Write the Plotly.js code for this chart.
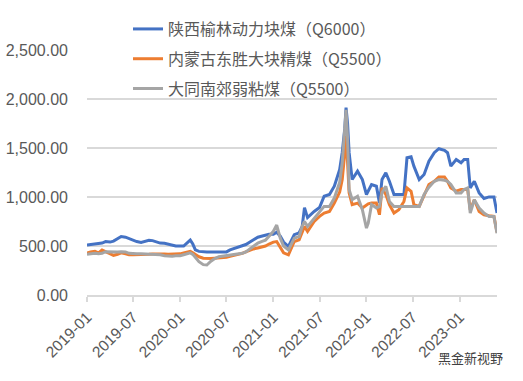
<!DOCTYPE html>
<html>
<head>
<meta charset="utf-8">
<script src="https://cdn.plot.ly/plotly-3.0.1.min.js"></script>
<style>html,body{margin:0;padding:0;background:#fff;}#chart{width:523px;height:381px;}</style>
</head>
<body>
<div id="chart"></div>
<script>
const dates = [
 '2019-01-01','2019-01-15','2019-02-01','2019-02-15','2019-03-01','2019-03-15','2019-04-01','2019-04-15',
 '2019-05-01','2019-05-15','2019-06-01','2019-06-15','2019-07-01','2019-07-15','2019-08-01','2019-08-15',
 '2019-09-01','2019-09-15','2019-10-01','2019-10-15','2019-11-01','2019-11-15','2019-12-01','2019-12-15',
 '2020-01-01','2020-01-15','2020-02-01','2020-02-10','2020-02-20','2020-03-01','2020-03-15','2020-04-01',
 '2020-04-15','2020-05-01','2020-05-15','2020-06-01','2020-06-15','2020-07-01','2020-07-15','2020-08-01',
 '2020-08-15','2020-09-01','2020-09-15','2020-10-01','2020-10-15','2020-11-01','2020-11-15','2020-12-01',
 '2020-12-15','2021-01-01','2021-01-14','2021-01-28','2021-02-10','2021-03-01','2021-03-24','2021-04-12',
 '2021-04-24','2021-05-03','2021-05-15','2021-06-10','2021-07-01','2021-07-19','2021-08-09','2021-08-28',
 '2021-09-18','2021-09-28','2021-10-08','2021-10-13','2021-10-19','2021-10-25','2021-11-06','2021-11-27',
 '2021-12-16','2022-01-01','2022-01-08','2022-01-21','2022-02-09','2022-02-21','2022-03-03','2022-03-18',
 '2022-04-01','2022-04-19','2022-05-08','2022-05-28','2022-06-09','2022-06-25','2022-07-06','2022-07-27',
 '2022-08-15','2022-09-03','2022-09-24','2022-10-12','2022-11-03','2022-11-15','2022-11-28','2022-12-19',
 '2023-01-07','2023-01-19','2023-02-02','2023-02-12','2023-02-28','2023-03-19','2023-04-07','2023-04-27',
 '2023-05-16','2023-05-28'
];
const yulin = [
 510,515,527,527,530,545,540,550,
 580,597,590,575,560,545,537,545,
 558,555,540,530,527,520,510,500,
 500,500,540,560,520,460,445,440,
 440,440,440,440,440,440,460,475,
 490,505,515,540,560,590,600,610,
 620,620,640,600,540,495,615,635,
 700,892,790,853,892,1008,1025,1110,
 1280,1455,1700,1913,1750,1455,1178,1263,
 1178,1025,1060,1127,1110,940,1178,1247,
 1161,1025,1025,1025,1400,1410,1315,1178,
 1229,1366,1452,1493,1476,1452,1315,1383,
 1349,1383,1383,1093,1161,1042,985,1001,
 1001,837
];
const dongsheng = [
 428,440,445,430,459,440,420,405,
 415,430,420,410,410,410,412,412,
 415,418,420,420,418,415,415,415,
 420,430,445,445,430,410,390,375,
 372,372,375,378,380,385,395,405,
 415,425,440,460,470,480,490,500,
 520,540,545,480,430,410,546,563,
 650,700,648,750,802,836,853,938,
 1050,1178,1450,1625,1350,1042,922,938,
 887,920,930,938,938,819,1093,1025,
 922,836,870,955,1093,1059,922,904,
 1008,1127,1161,1205,1205,1161,1093,1059,
 1076,1076,1076,870,972,853,819,809,
 802,640
];
const datong = [
 415,420,425,420,425,442,440,435,
 440,442,440,425,420,420,420,418,
 420,420,418,410,400,395,395,400,
 400,410,425,430,415,380,340,310,
 306,345,370,390,395,400,405,410,
 415,425,440,470,500,530,545,560,
 600,650,714,580,500,461,580,597,
 700,750,700,785,853,904,904,989,
 1150,1349,1700,1890,1600,1076,972,1008,
 870,683,733,922,887,904,1042,1110,
 955,904,904,904,904,904,904,904,
 1025,1100,1160,1178,1170,1161,1127,1042,
 1042,1076,1093,836,972,887,836,802,
 802,630
];
const seriesNames = ['陕西榆林动力块煤（Q6000）','内蒙古东胜大块精煤（Q5500）','大同南郊弱粘煤（Q5500）'];
const colors = ['#4472C4','#ED7D31','#A5A5A5'];
const yTicks = [0,500,1000,1500,2000,2500];
const xTicks = ['2019-01-01','2019-07-01','2020-01-01','2020-07-01','2021-01-01','2021-07-01','2022-01-01','2022-07-01','2023-01-01'];

const allY = [yulin, dongsheng, datong];
const traces = allY.map((ys, i) => ({
  x: dates, y: ys, type: 'scatter', mode: 'lines', name: seriesNames[i],
  legendgroup: 'g' + i,
  line: {color: colors[i], width: 3}
}));

const layout = {
  width: 523, height: 381,
  margin: {l: 87, r: 26, t: 50, b: 86},
  paper_bgcolor: '#fff', plot_bgcolor: '#fff',
  font: {family: 'Liberation Sans, Arial, sans-serif', color: '#595959'},
  showlegend: true,
  legend: {
    x: 0.1, y: 1.155, xanchor: 'left', yanchor: 'top',
    bgcolor: 'rgba(0,0,0,0)', tracegroupgap: 6,
    font: {family: 'Noto Sans CJK SC, sans-serif', size: 16, color: '#595959'}
  },
  xaxis: {
    type: 'date', range: ['2019-01-01', '2023-05-28'],
    tickmode: 'array', tickvals: xTicks, tickformat: '%Y-%m', tickangle: -45,
    showgrid: false, showline: true, linecolor: '#D9D9D9', linewidth: 2,
    ticks: 'outside', ticklen: 5, tickcolor: '#D9D9D9', tickwidth: 2,
    tickfont: {size: 15.5, color: '#595959'}
  },
  yaxis: {
    range: [0, 2500], tickmode: 'array', tickvals: yTicks,
    tickformat: ',.2f', showgrid: true, gridcolor: '#D9D9D9', gridwidth: 2,
    zeroline: false, showline: false, ticks: '', ticklabelstandoff: 18,
    tickfont: {size: 16, color: '#595959'}
  },
  annotations: [{
    xref: 'paper', yref: 'paper', x: 1.02, y: -0.255, xanchor: 'right', yanchor: 'middle',
    text: '黑金新视野', showarrow: false,
    font: {family: 'Noto Sans CJK SC, sans-serif', size: 13, color: '#404040'}
  }]
};

Plotly.newPlot('chart', traces, layout, {displayModeBar: false, staticPlot: true});
</script>
</body>
</html>
